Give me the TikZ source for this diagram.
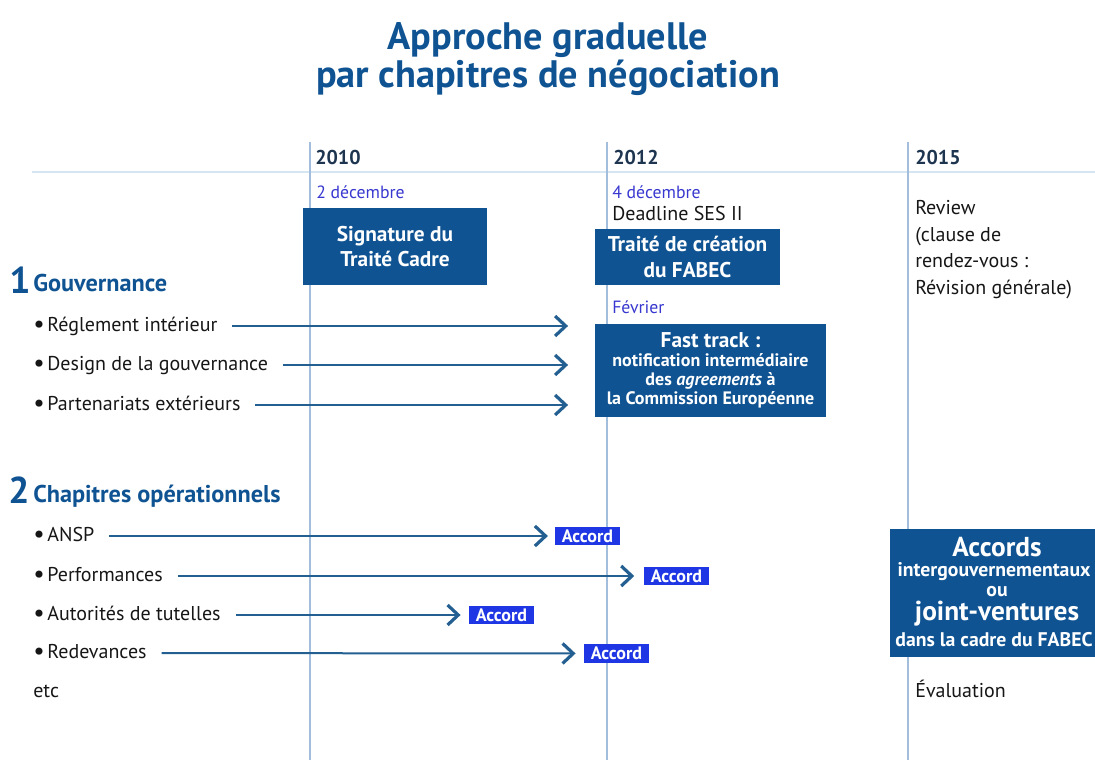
\documentclass[tikz,border=0pt]{standalone}
\usepackage{fontspec}
\setmainfont{PT Sans}
\usetikzlibrary{arrows.meta,positioning}
\definecolor{navy}{HTML}{0F5393}
\definecolor{yearc}{HTML}{1E3550}
\definecolor{datec}{HTML}{3838D0}
\definecolor{accbl}{HTML}{1E36E4}
\definecolor{arrc}{HTML}{245F92}
\definecolor{gridv}{HTML}{A3BEDD}
\definecolor{gridh}{HTML}{D5E5F1}
\definecolor{ink}{HTML}{161616}
\newcommand\bul{\raisebox{-1pt}{\fontsize{19}{15}\selectfont\textbullet}\hspace{2pt}}
\tikzset{
  vline/.style={draw=gridv, line width=0.9pt},
  hline/.style={draw=gridh, line width=1.3pt},
  year/.style={anchor=base west, inner sep=0pt, text=yearc, font=\bfseries\fontsize{15}{17}\selectfont},
  date/.style={anchor=base west, inner sep=0pt, text=datec, font=\fontsize{13.3}{15}\selectfont},
  plain/.style={anchor=base west, inner sep=0pt, text=ink, font=\fontsize{15}{20}\selectfont, align=left},
  item/.style={anchor=west, inner sep=0pt, text height=11pt, text depth=3.5pt, text=ink, font=\fontsize{15}{17}\selectfont},
  num/.style={anchor=base west, inner sep=0pt, text=navy, font=\bfseries\fontsize{28}{30}\selectfont},
  head/.style={anchor=base west, inner sep=0pt, text=navy, font=\bfseries\fontsize{18.2}{21}\selectfont},
  darkbox/.style={fill=navy, text=white, align=center, inner sep=0pt, font=\bfseries\fontsize{16}{19}\selectfont},
  boxline/.style={anchor=base, inner sep=0pt, text=white, font=\bfseries\fontsize{14.8}{16}\selectfont},
  accord/.style={fill=accbl, text=white, inner sep=0pt, minimum width=49pt, minimum height=14pt, font=\bfseries\fontsize{13.5}{14}\selectfont},
  link/.style={draw=arrc, line width=1.5pt, -{Straight Barb[length=8pt, width=15pt, line width=2.4pt]}},
}

\begin{document}
\begin{tikzpicture}[x=0.75pt, y=-0.75pt]
\useasboundingbox (0,0) rectangle (1095,760);

\node[text=navy, align=center, anchor=north, inner sep=0pt,
  font=\bfseries\fontsize{28.7}{29}\selectfont] (title) at (548,22)
  {Approche graduelle\\par chapitres de négociation};

% time axis
\draw[hline] (32,172) -- (1095,172);
\foreach \x in {310,607,908}
  \draw[vline] (\x,142) -- (\x,760);

\node[year] (y2010) at (315,164) {2010};
\node[year] (y2012) at (613,164) {2012};
\node[year] (y2015) at (915,164) {2015};

% 2010
\node[date] (d2010) at (316,198) {2 décembre};
\node[darkbox, minimum width=138pt, minimum height=57.75pt] (sign) at (395,246.5)
  {Signature du\\Traité Cadre};

% 2012
\node[date] (d2012) at (612,198) {4 décembre};
\node[plain] (deadline) at (612,220) {Deadline SES II};
\node[darkbox, minimum width=139pt, minimum height=42pt] (fabec) at (687.5,257)
  {Traité de création\\du FABEC};
\node[date] (fev) at (612,313) {Février};
\node[darkbox, minimum width=173.25pt, minimum height=70pt,
  font=\bfseries\fontsize{13.5}{14.3}\selectfont] (fast) at (710.5,370.5)
  {{\fontsize{16}{17}\selectfont Fast track :}\\
   notification intermédiaire\\
   des \textit{agreements} à\\
   la Commission Européenne};

% 2015
\node[plain, anchor=north west] (review) at (915,200)
  {Review\\(clause de\\rendez-vous :\\Révision générale)};
\node[darkbox, minimum width=163.5pt, minimum height=96pt] (jv) at (999,593) {};
\node[boxline, font=\bfseries\fontsize{20.5}{22}\selectfont] (jv1) at (997,556) {Accords};
\node[boxline] (jv2) at (994,576) {intergouvernementaux};
\node[boxline] (jv3) at (997,596) {ou};
\node[boxline, font=\bfseries\fontsize{20.5}{22}\selectfont] (jv4) at (997,620) {joint-ventures};
\node[boxline] (jv5) at (994,646) {dans la cadre du FABEC};
\node[plain] (eval) at (915,697) {Évaluation};

% 1 gouvernance
\node[num] (n1) at (9,293) {1};
\node[head] (gouv) at (33,291) {Gouvernance};
\node[item] (rgl) at (33,326) {\bul Réglement intérieur};
\node[item] (dsg) at (33,365) {\bul Design de la gouvernance};
\node[item] (prt) at (33,405) {\bul Partenariats extérieurs};

\foreach \itm in {rgl,dsg,prt}
  \draw[link, shorten <=11pt, shorten >=20pt] (\itm.east) -- (\itm.east -| fast.west);

% 2 chapitres operationnels
\node[num] (n2) at (8,503) {2};
\node[head] (chap) at (33,502) {Chapitres opérationnels};
\node[item] (ansp) at (33,536) {\bul ANSP};
\node[item] (perf) at (33,576) {\bul Performances};
\node[item] (aut) at (33,615) {\bul Autorités de tutelles};
\node[item] (red) at (33,653) {\bul Redevances};
\node[plain] (etc) at (33,697) {etc};

\node[accord] (acc1) at (587.5,536) {Accord};
\node[accord] (acc2) at (676.5,576) {Accord};
\node[accord] (acc3) at (501.5,615) {Accord};
\node[accord] (acc4) at (616.5,653.5) {Accord};

\draw[link, shorten <=11pt, shorten >=5pt] (ansp) -- (acc1);
\draw[link, shorten <=11pt, shorten >=7pt] (perf) -- (acc2);
\draw[link, shorten <=11pt, shorten >=6pt] (aut) -- (acc3);
\draw[link, shorten <=11pt, shorten >=6pt] (red) -- (acc4);
\end{tikzpicture}
\end{document}
